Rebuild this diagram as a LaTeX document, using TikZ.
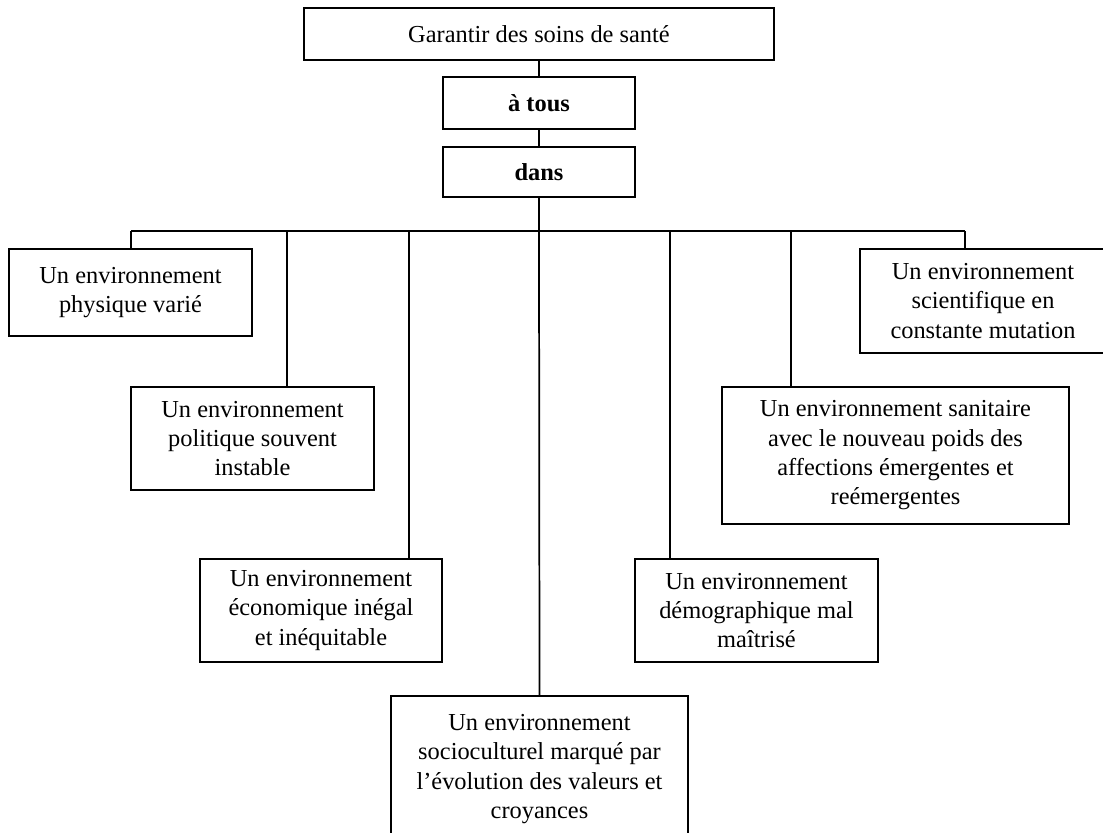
\documentclass[tikz,border=0pt]{standalone}
\usepackage{fontspec}
\setmainfont{Liberation Serif}
\begin{document}
\begin{tikzpicture}[x=0.75pt,y=-0.75pt,
  bx/.style 2 args={draw=black, line width=1.3pt, fill=white, align=center,
    inner sep=0pt, minimum width=#1*0.75pt, minimum height=#2*0.75pt,
    font=\fontsize{18.3pt}{22pt}\selectfont},
  link/.style={draw=black, line width=1.3pt}]
\useasboundingbox (0,0) rectangle (1103,832);
% top chain
\node[bx={470}{52}] (top) at (539,34) {Garantir des soins de santé};
\node[bx={192}{52}] (atous) at (539,103) {\textbf{à tous}};
\node[bx={192}{50}] (dans) at (539,172) {\textbf{dans}};
% children
\node[bx={243}{87}] (phys) at (130.5,292.5) {Un environnement\\physique varié};
\node[bx={243}{103}] (pol) at (252.5,438.5) {Un environnement\\politique souvent\\instable};
\node[bx={242}{103}] (eco) at (321,610.5) {Un environnement\\économique inégal\\et inéquitable};
\node[bx={297}{146}] (socio) at (539.5,769) {Un environnement\\socioculturel marqué par\\l’évolution des valeurs et\\croyances};
\node[bx={243}{103}] (demo) at (756.5,610.5) {Un environnement\\démographique mal\\maîtrisé};
\node[bx={347}{137}] (sani) at (895.5,455.5) {Un environnement sanitaire\\avec le nouveau poids des\\affections émergentes et\\reémergentes};
\node[bx={246}{104}] (sci) at (983,301) {Un environnement\\scientifique en\\constante mutation};
% bus coordinates
\coordinate (b1) at (131,231);
\coordinate (b2) at (287,231);
\coordinate (b3) at (409,231);
\coordinate (b4) at (539,231);
\coordinate (b5) at (670,231);
\coordinate (b6) at (791,231);
\coordinate (b7) at (965,231);
% connectors
\draw[link] (top) -- (atous);
\draw[link] (atous) -- (dans);
\draw[link] (dans) -- (b4);
\draw[link] (b1) -- (b7);
\draw[link] (b1) -- (b1 |- phys.north);
\draw[link] (b2) -- (b2 |- pol.north);
\draw[link] (b3) -- (b3 |- eco.north);
\draw[link] (b4) -- (socio.north);
\draw[link] (b5) -- (b5 |- demo.north);
\draw[link] (b6) -- (b6 |- sani.north);
\draw[link] (b7) -- (b7 |- sci.north);
\end{tikzpicture}
\end{document}
